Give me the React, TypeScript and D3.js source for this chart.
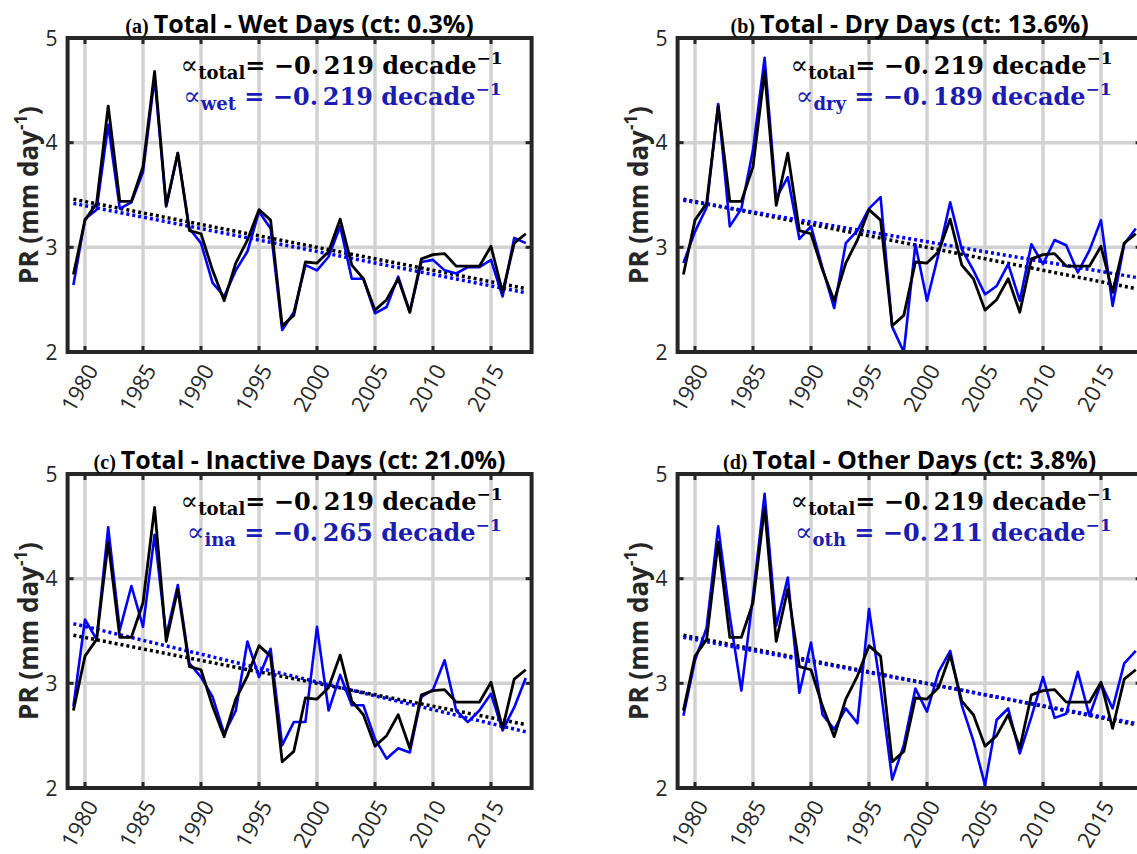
import React from "react";
import * as d3 from "d3";

const years = d3.range(1979, 2019);
const xTicks = [1980, 1985, 1990, 1995, 2000, 2005, 2010, 2015];
const yTicks = [2, 3, 4, 5];

// total precipitation rate (black line, same in every panel)
const prTotal = [2.74, 3.26, 3.42, 4.35, 3.44, 3.44, 3.77, 4.68, 3.4, 3.9, 3.16, 3.13, 2.78, 2.49, 2.85, 3.07, 3.36, 3.26, 2.25, 2.35, 2.86, 2.85, 2.96, 3.27, 2.83, 2.7, 2.4, 2.5, 2.7, 2.38, 2.89, 2.93, 2.94, 2.82, 2.82, 2.82, 3.01, 2.57, 3.04, 3.13];
// total minus each weather type (blue lines)
const prWet = [2.64, 3.27, 3.36, 4.17, 3.37, 3.43, 3.72, 4.62, 3.39, 3.9, 3.18, 3.04, 2.66, 2.53, 2.78, 2.96, 3.34, 3.18, 2.21, 2.38, 2.83, 2.78, 2.91, 3.2, 2.7, 2.7, 2.37, 2.43, 2.72, 2.38, 2.86, 2.88, 2.78, 2.75, 2.81, 2.81, 2.88, 2.53, 3.09, 3.04];
const prDry = [2.85, 3.15, 3.38, 4.37, 3.2, 3.37, 3.93, 4.81, 3.47, 3.67, 3.08, 3.2, 2.8, 2.42, 3.04, 3.16, 3.37, 3.48, 2.24, 2.0, 3.03, 2.49, 2.94, 3.43, 2.98, 2.78, 2.55, 2.63, 2.84, 2.49, 3.03, 2.84, 3.07, 3.02, 2.76, 2.97, 3.26, 2.44, 3.03, 3.18];
const prIna = [2.78, 3.61, 3.42, 4.49, 3.51, 3.93, 3.54, 4.42, 3.45, 3.94, 3.19, 3.06, 2.87, 2.52, 2.74, 3.4, 3.06, 3.33, 2.41, 2.63, 2.63, 3.54, 2.74, 3.08, 2.79, 2.79, 2.47, 2.28, 2.38, 2.34, 2.87, 2.94, 3.22, 2.74, 2.63, 2.74, 2.9, 2.55, 2.77, 3.05];
const prOth = [2.69, 3.22, 3.53, 4.5, 3.64, 2.93, 3.83, 4.81, 3.55, 4.01, 2.91, 3.39, 2.7, 2.56, 2.76, 2.62, 3.71, 2.95, 2.08, 2.41, 2.95, 2.73, 3.11, 3.31, 2.79, 2.45, 2.03, 2.65, 2.76, 2.33, 2.68, 3.06, 2.67, 2.71, 3.11, 2.69, 3.0, 2.76, 3.19, 3.31];

// linear trends: value at 1979 and slope per decade
const totalTrend = { start: 3.46, slope: -0.219 };
const panelLetters = ["(a)", "(b)", "(c)", "(d)"];
const panelNames = ["Wet", "Dry", "Inactive", "Other"];
const panelCt = ["0.3%", "13.6%", "21.0%", "3.8%"];
const panelSubs = ["wet", "dry", "ina", "oth"];
const panelSeries = [prWet, prDry, prIna, prOth];
const panelSlopes = [-0.219, -0.189, -0.265, -0.211];
const panelStarts = [3.42, 3.45, 3.57, 3.44];

const FRAME = "#262626";
const GRID = "#d2d2d2";
const BLUE = "#0000ff";
const BLUE_TEXT = "#1c1cb0";
const SANS = "'Open Sans', 'DejaVu Sans', sans-serif";
const SERIF = "'Liberation Serif', serif";
const MATH = "'DejaVu Serif', serif";

function Panel({ idx, left, top }: { idx: number; left: number; top: number }) {
  const x = d3.scaleLinear().domain([1978.5, 2018.5]).range([left, left + 464]);
  const y = d3.scaleLinear().domain([2, 5]).range([top + 314, top]);
  const [x0, x1] = x.range();
  const [y1, y0] = y.range();
  const line = d3
    .line<number>()
    .x((_, i) => x(years[i]))
    .y((d) => y(d));
  const trend = (start: number, slope: number) => {
    const a = years[0];
    const b = years[years.length - 1];
    return `M${x(a)},${y(start)}L${x(b)},${y(start + (slope * (b - a)) / 10)}`;
  };
  const sub = panelSubs[idx];
  const cx = (x0 + x1) / 2;
  const fmt = (v: number) => "\u2212" + Math.abs(v).toFixed(3).replace(".", ".\u2009");

  return (
    <g>
      {xTicks.map((t) => (
        <line key={"gx" + t} x1={x(t)} x2={x(t)} y1={y0} y2={y1} stroke={GRID} strokeWidth={3.5} />
      ))}
      {yTicks.map((t) => (
        <line key={"gy" + t} x1={x0} x2={x1} y1={y(t)} y2={y(t)} stroke={GRID} strokeWidth={3.5} />
      ))}
      {xTicks.map((t) => (
        <g key={"tx" + t}>
          <line x1={x(t)} x2={x(t)} y1={y1} y2={y1 - 6} stroke={FRAME} strokeWidth={3} />
          <line x1={x(t)} x2={x(t)} y1={y0} y2={y0 + 6} stroke={FRAME} strokeWidth={3} />
        </g>
      ))}
      {yTicks.map((t) => (
        <g key={"ty" + t}>
          <line x1={x0} x2={x0 + 6} y1={y(t)} y2={y(t)} stroke={FRAME} strokeWidth={3} />
          <line x1={x1} x2={x1 - 6} y1={y(t)} y2={y(t)} stroke={FRAME} strokeWidth={3} />
        </g>
      ))}

      <path d={trend(totalTrend.start, totalTrend.slope)} stroke="#000" strokeWidth={3.5} strokeDasharray="3 3" fill="none" />
      <path d={trend(panelStarts[idx], panelSlopes[idx])} stroke={BLUE} strokeWidth={3.5} strokeDasharray="3 3" fill="none" />
      <path d={line(panelSeries[idx]) || ""} stroke={BLUE} strokeWidth={2.6} fill="none" strokeLinejoin="round" />
      <path d={line(prTotal) || ""} stroke="#000" strokeWidth={2.8} fill="none" strokeLinejoin="round" />

      <rect x={x0} y={y0} width={x1 - x0} height={y1 - y0} fill="none" stroke={FRAME} strokeWidth={4} />

      {yTicks.map((t) => (
        <text key={"ly" + t} x={x0 - 10} y={y(t)} dy="0.36em" textAnchor="end" fontFamily={SANS} fontSize={21} fill={FRAME}>
          {t}
        </text>
      ))}
      {xTicks.map((t) => (
        <text
          key={"lx" + t}
          transform={`translate(${x(t) + 14},${y1 + 18}) rotate(-60)`}
          textAnchor="end"
          fontFamily={SANS}
          fontSize={22}
          fill={FRAME}
        >
          {t}
        </text>
      ))}
      <text
        transform={`translate(${x0 - 30},${(y0 + y1) / 2}) rotate(-90)`}
        textAnchor="middle"
        fontFamily={SANS}
        fontWeight="bold"
        fontSize={26}
        fill={FRAME}
      >
        PR (mm day<tspan fontSize={17} dy={-11}>-1</tspan>
        <tspan dy={11}>)</tspan>
      </text>

      <text x={cx} y={y0 - 5} textAnchor="middle" fill="#000">
        <tspan fontFamily={SERIF} fontWeight="bold" fontSize={20}>
          {panelLetters[idx]}{" "}
        </tspan>
        <tspan fontFamily={SANS} fontWeight="bold" fontSize={25}>
          {`Total - ${panelNames[idx]} Days (ct: ${panelCt[idx]})`}
        </tspan>
      </text>

      <text x={x1 - 29} y={y0 + 36} textAnchor="end" fontFamily={MATH} fontWeight="bold" fontSize={24} fill="#000">
        <tspan fontSize={26} fontWeight="normal">∝</tspan>
        <tspan fontSize={18} dy={5}>total</tspan>
        <tspan dy={-5}>= {fmt(totalTrend.slope)} decade</tspan>
        <tspan fontSize={17} dy={-10}>{"\u22121"}</tspan>
      </text>
      <text x={x1 - 30} y={y0 + 67} textAnchor="end" fontFamily={MATH} fontWeight="bold" fontSize={24} fill={BLUE_TEXT}>
        <tspan fontSize={26} fontWeight="normal">∝</tspan>
        <tspan fontSize={18} dy={5}>{sub}</tspan>
        <tspan dy={-5}> = {fmt(panelSlopes[idx])} decade</tspan>
        <tspan fontSize={17} dy={-10}>{"\u22121"}</tspan>
      </text>
    </g>
  );
}

export default function App() {
  const lefts = [67.6, 677.6, 67.6, 677.6];
  const tops = [38, 38, 474, 474];
  return (
    <svg width={1137} height={854} style={{ position: "absolute", left: 0, top: 0, background: "#fff" }}>
      <rect width={1137} height={854} fill="#fff" />
      {lefts.map((l, i) => (
        <Panel key={i} idx={i} left={l} top={tops[i]} />
      ))}
    </svg>
  );
}
